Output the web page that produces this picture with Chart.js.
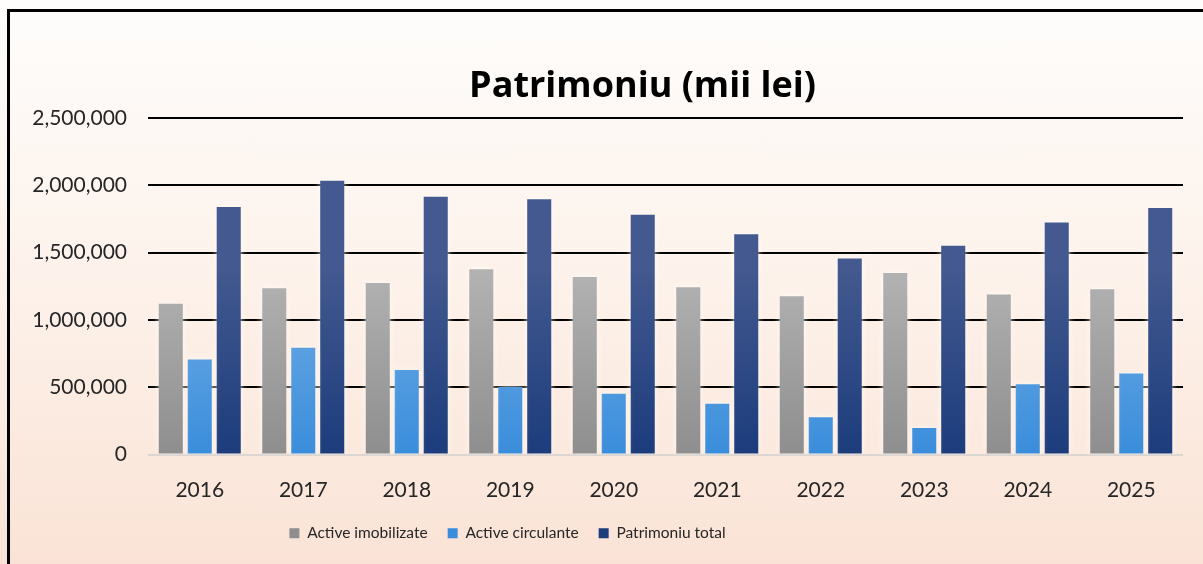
<!DOCTYPE html>
<html>
<head>
<meta charset="utf-8">
<script src="https://cdn.jsdelivr.net/npm/chart.js@4"></script>
<style>
  html, body { margin: 0; padding: 0; width: 1203px; height: 564px; overflow: hidden; }
  body { background: linear-gradient(to bottom, #fefdfc 0%, #fdf3ec 45%, #fae3d6 100%); position: relative; }
  #frame { position: absolute; left: 7px; top: 9px; width: 1300px; height: 700px;
           border-top: 3px solid #000; border-left: 3px solid #000; pointer-events: none; }
  #wrap { position: absolute; left: 0; top: 0; width: 1203px; height: 564px; }
</style>
</head>
<body>
<div id="wrap"><canvas id="patrimoniuChart" width="1203" height="564"></canvas></div>
<div id="frame"></div>
<script>
const years = ['2016', '2017', '2018', '2019', '2020', '2021', '2022', '2023', '2024', '2025'];
const activeImobilizate = [1120000, 1235000, 1275000, 1378000, 1320000, 1243000, 1177000, 1350000, 1190000, 1228000];
const activeCirculante = [707000, 793000, 628000, 502000, 452000, 377000, 277000, 197000, 523000, 602000];
const patrimoniuTotal = [1840000, 2035000, 1917000, 1897000, 1782000, 1637000, 1457000, 1552000, 1725000, 1832000];
const yTicks = [0, 500000, 1000000, 1500000, 2000000, 2500000];

const fontFamily = 'Lato, "Open Sans", sans-serif';

// vertical gradient over the chart area, like the Excel fill
function barGradient(top, bottom) {
    return function(context) {
        const area = context.chart.chartArea;
        if (!area) return bottom;
        const g = context.chart.ctx.createLinearGradient(0, area.top + 150, 0, area.bottom);
        g.addColorStop(0, top);
        g.addColorStop(1, bottom);
        return g;
    };
}

// soft light glow round the bars
const glowPlugin = {
    id: 'glow',
    beforeDatasetsDraw(chart) {
        const ctx = chart.ctx;
        ctx.save();
        ctx.shadowColor = 'rgba(255, 252, 248, 0.95)';
        ctx.shadowBlur = 7;
    },
    afterDatasetsDraw(chart) {
        chart.ctx.restore();
    }
};

// in the reference the title sits a bit right, the legend a bit left
const blockShift = {
    id: 'blockShift',
    afterLayout(chart) {
        chart.legend.left -= 94;
        chart.legend.right -= 94;
        chart.titleBlock.left += 41;
        chart.titleBlock.right += 41;
    }
};

const ctx = document.getElementById('patrimoniuChart').getContext('2d');
new Chart(ctx, {
    type: 'bar',
    data: {
        labels: years,
        datasets: [{
            label: 'Active imobilizate',
            data: activeImobilizate,
            backgroundColor: barGradient('#b3b3b3', '#8e8e8e'),
            categoryPercentage: 0.84,
            barPercentage: 0.83
        }, {
            label: 'Active circulante',
            data: activeCirculante,
            backgroundColor: barGradient('#72aee6', '#3a8ddb'),
            categoryPercentage: 0.84,
            barPercentage: 0.83
        }, {
            label: 'Patrimoniu total',
            data: patrimoniuTotal,
            backgroundColor: barGradient('#43598f', '#1c3c7c'),
            categoryPercentage: 0.84,
            barPercentage: 0.83
        }]
    },
    options: {
        responsive: false,
        animation: false,
        layout: { padding: { left: 20, right: 20, top: 0, bottom: 13 } },
        plugins: {
            title: {
                display: true,
                text: 'Patrimoniu (mii lei)',
                color: '#000',
                font: { family: '"Open Sans", Lato, sans-serif', size: 36, weight: 'bold' },
                padding: { top: 65, bottom: 10 }
            },
            legend: {
                position: 'bottom',
                labels: {
                    color: '#262626',
                    font: { family: fontFamily, size: 15.5 },
                    boxWidth: 10,
                    boxHeight: 10,
                    padding: 20
                }
            },
            tooltip: { enabled: false }
        },
        scales: {
            x: {
                grid: { display: false },
                border: { display: false },
                ticks: {
                    color: '#262626',
                    font: { family: fontFamily, size: 21 },
                    padding: 15
                },
                afterFit(scale) { scale.height = 51; }
            },
            y: {
                min: 0,
                max: 2500000,
                afterBuildTicks(scale) {
                    scale.ticks = yTicks.map(v => ({ value: v }));
                },
                afterFit(scale) { scale.width = 128; },
                border: { display: false },
                grid: {
                    drawTicks: false,
                    lineWidth: 2,
                    color: c => c.tick && c.tick.value === 0 ? '#dcd6d2' : '#000'
                },
                ticks: {
                    color: '#262626',
                    padding: 21,
                    font: { family: fontFamily, size: 21 },
                    callback: v => v.toLocaleString('en-US')
                }
            }
        }
    },
    plugins: [glowPlugin, blockShift]
});
</script>
</body>
</html>
